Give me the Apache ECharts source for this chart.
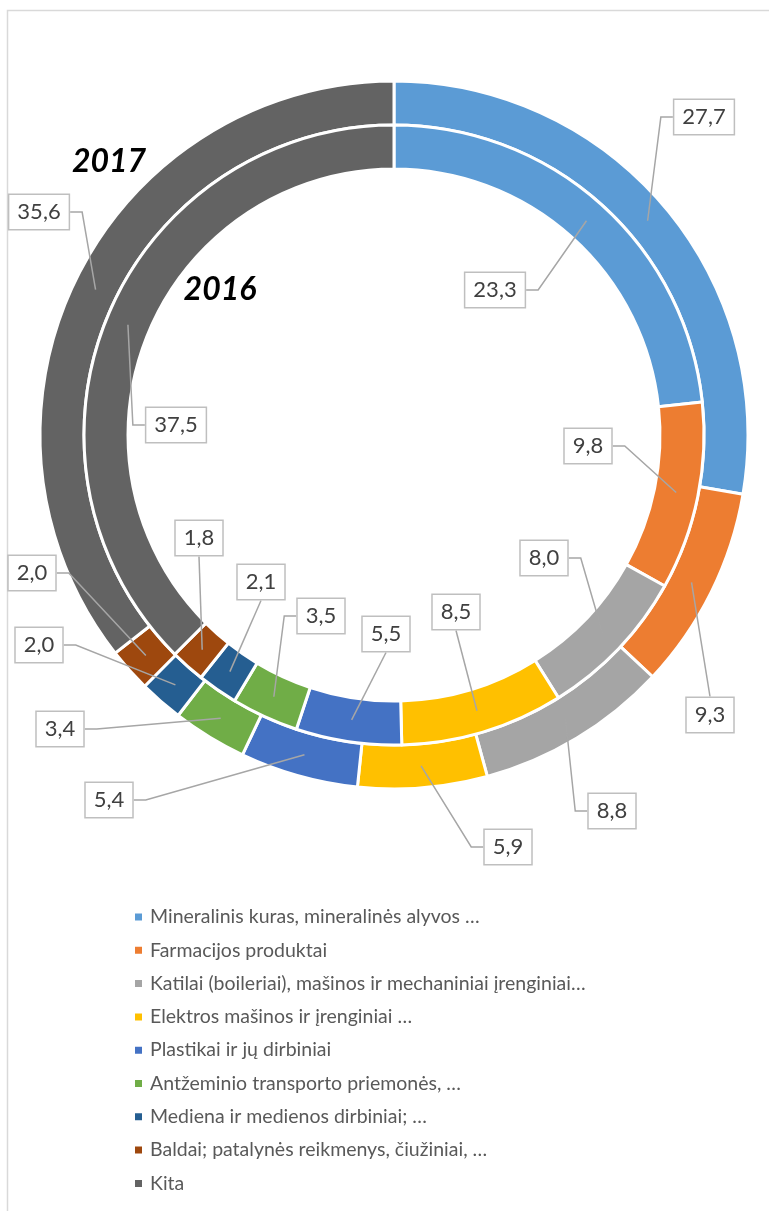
<!DOCTYPE html>
<html>
<head>
<meta charset="utf-8">
<title>Eksporto struktūra 2016–2017</title>
<script src="https://cdn.jsdelivr.net/npm/echarts@6/dist/echarts.min.js"></script>
<style>
  html, body { margin: 0; padding: 0; background: #fff; }
  #export-chart { width: 769px; height: 1211px; }
</style>
</head>
<body>
<div id="export-chart"></div>
<script>
// categories (legend order)
const categories = [
  "Mineralinis kuras, mineralinės alyvos …",
  "Farmacijos produktai",
  "Katilai (boileriai), mašinos ir mechaniniai įrenginiai…",
  "Elektros mašinos ir įrenginiai …",
  "Plastikai ir jų dirbiniai",
  "Antžeminio transporto priemonės, …",
  "Mediena ir medienos dirbiniai; …",
  "Baldai; patalynės reikmenys, čiužiniai, …",
  "Kita"
];
const values2017 = [27.7, 9.3, 8.8, 5.9, 5.4, 3.4, 2.0, 2.0, 35.6];
const values2016 = [23.3, 9.8, 8.0, 8.5, 5.5, 3.5, 2.1, 1.8, 37.5];
const colors = ["#5B9BD5", "#ED7D31", "#A5A5A5", "#FFC000", "#4472C4", "#70AD47", "#255E91", "#9E480E", "#636363"];

// where each data label box sits, and which side its leader line leaves from
const labelBoxes2017 = [[704, 117, "l"], [710, 715, "t"], [612, 811, "l"], [508, 847, "l"], [109, 800, "r"], [60, 729, "r"], [39, 645, "r"], [32, 573, "r"], [39, 212, "r"]];
const labelBoxes2016 = [[495, 290, "r"], [588, 446, "r"], [544, 558, "r"], [456, 612, "b"], [386, 634, "b"], [321, 616, "l"], [261, 582, "b"], [199, 538, "b"], [176, 425, "l"]];

const center = [394, 435];
const radius2017 = [310, 354];
const radius2016 = [266, 310];

function fmt(v) {
  return v.toFixed(1).replace(".", ",");
}

// put the box where Excel had it, leader line from the middle of the ring
function makeLayout(boxes, radius) {
  const midR = (radius[0] + radius[1]) / 2;
  return function (params) {
    const b = boxes[params.dataIndex];
    const w = params.labelRect.width, h = params.labelRect.height;
    const res = { x: b[0], y: b[1], align: "center", verticalAlign: "middle" };
    const pts = params.labelLinePoints;
    if (!pts) return res;
    const dx = pts[0][0] - center[0], dy = pts[0][1] - center[1];
    const d = Math.sqrt(dx * dx + dy * dy) || 1;
    const mid = [center[0] + dx / d * midR, center[1] + dy / d * midR];
    let end, bend;
    if (b[2] === "l") { end = [b[0] - w / 2, b[1]]; bend = [end[0] - 12, b[1]]; }
    else if (b[2] === "r") { end = [b[0] + w / 2, b[1]]; bend = [end[0] + 12, b[1]]; }
    else if (b[2] === "t") { end = [b[0], b[1] - h / 2]; bend = end; }
    else { end = [b[0], b[1] + h / 2]; bend = end; }
    res.labelLinePoints = [mid, bend, end];
    return res;
  };
}

function ringData(values) {
  return categories.map((c, i) => ({ name: c, value: values[i] }));
}

function ringSeries(name, values, radius) {
  return {
    name: name,
    type: "pie",
    center: center,
    radius: radius,
    startAngle: 90,
    clockwise: true,
    animation: false,
    data: ringData(values),
    itemStyle: { borderColor: "#fff", borderWidth: 3 },
    label: { show: false },
    labelLine: { show: false },
    emphasis: { disabled: true }
  };
}

// same ring again, see-through, drawn on top so the leader lines sit above the colour
function labelSeries(name, values, radius, boxes) {
  return {
    name: name,
    type: "pie",
    z: 5,
    silent: true,
    center: center,
    radius: radius,
    startAngle: 90,
    clockwise: true,
    avoidLabelOverlap: false,
    animation: false,
    data: ringData(values),
    itemStyle: { color: "rgba(0,0,0,0)", borderWidth: 0 },
    label: {
      show: true,
      position: "outside",
      formatter: (p) => fmt(p.value),
      fontFamily: "Lato",
      fontSize: 22,
      color: "#404040",
      backgroundColor: "#fff",
      borderColor: "#BFBFBF",
      borderWidth: 1.5,
      padding: [6, 8, 6, 8]
    },
    labelLine: {
      show: true,
      showAbove: true,
      length: 10,
      length2: 10,
      lineStyle: { color: "#A6A6A6", width: 1.5, opacity: 1 }
    },
    labelLayout: makeLayout(boxes, radius),
    emphasis: { disabled: true }
  };
}

const chartDom = document.getElementById("export-chart");
const myChart = echarts.init(chartDom);

const option = {
  color: colors,
  graphic: [
    {
      type: "rect",
      silent: true,
      shape: { x: 7.5, y: 10.5, width: 900, height: 1300 },
      style: { fill: "none", stroke: "#D9D9D9", lineWidth: 1.5 }
    },
    {
      type: "text",
      silent: true,
      style: {
        text: "2017", x: 109, y: 162, align: "center", verticalAlign: "middle",
        font: "italic bold 32px Lato", fill: "#000",
        shadowColor: "rgba(0,0,0,0.35)", shadowBlur: 2, shadowOffsetX: 1, shadowOffsetY: 1
      }
    },
    {
      type: "text",
      silent: true,
      style: {
        text: "2016", x: 220, y: 290, align: "center", verticalAlign: "middle",
        font: "italic bold 32px Lato", fill: "#000",
        shadowColor: "rgba(0,0,0,0.35)", shadowBlur: 2, shadowOffsetX: 1, shadowOffsetY: 1
      }
    }
  ],
  legend: {
    orient: "vertical",
    left: 133,
    top: 907,
    padding: 0,
    icon: "rect",
    itemWidth: 9,
    itemHeight: 9,
    itemGap: 13.3,
    selectedMode: false,
    data: categories,
    textStyle: {
      fontFamily: "Lato",
      fontSize: 19.5,
      lineHeight: 20,
      color: "#595959",
      padding: [0, 0, 0, 2]
    }
  },
  series: [
    ringSeries("2017", values2017, radius2017),
    ringSeries("2016", values2016, radius2016),
    labelSeries("2017 labels", values2017, radius2017, labelBoxes2017),
    labelSeries("2016 labels", values2016, radius2016, labelBoxes2016)
  ]
};

myChart.setOption(option);
window.addEventListener("resize", () => myChart.resize());
</script>
</body>
</html>
